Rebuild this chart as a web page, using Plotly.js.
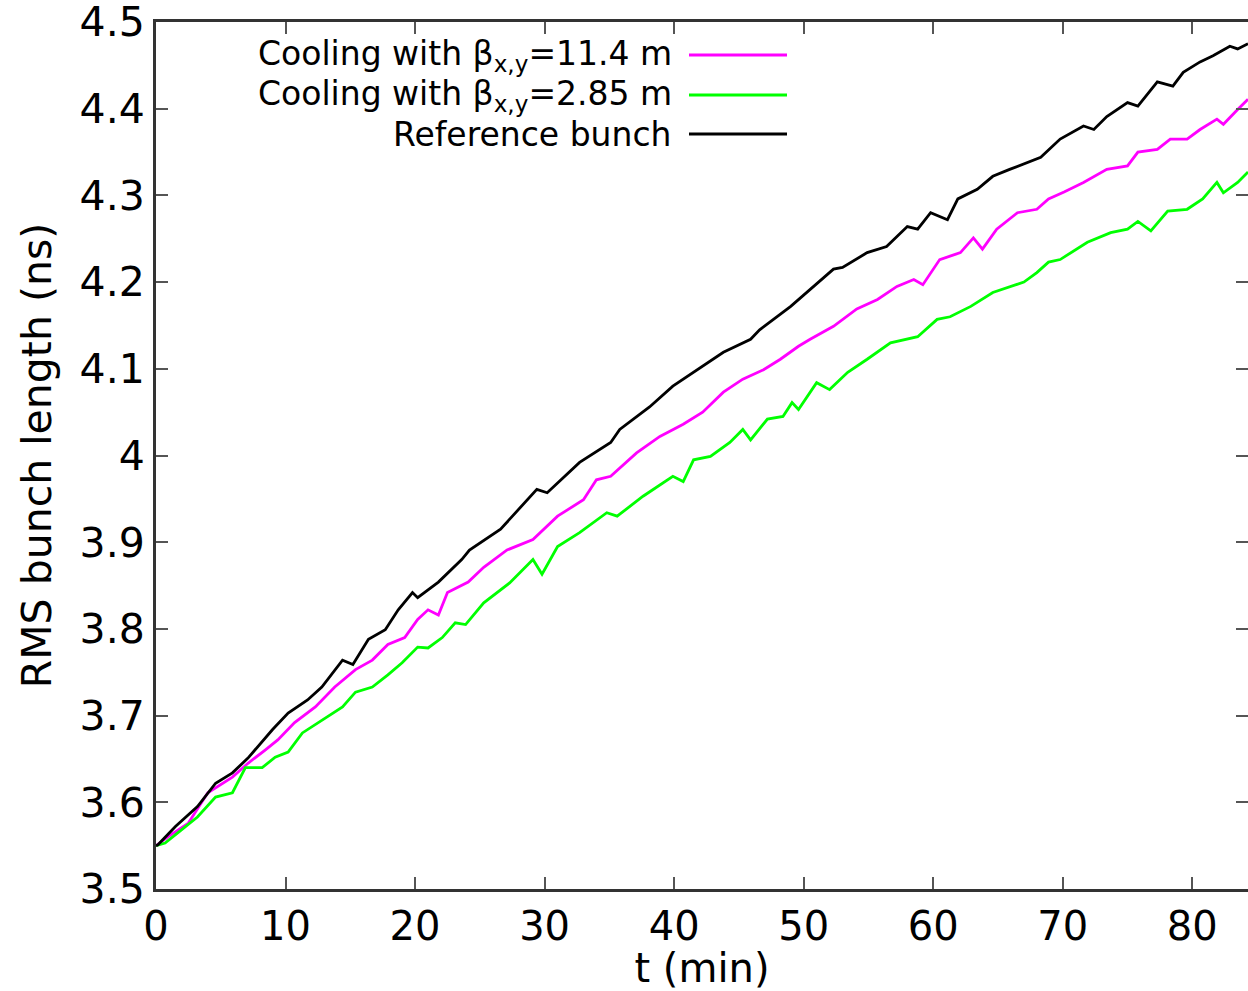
<!DOCTYPE html>
<html>
<head>
<meta charset="utf-8">
<script src="https://cdn.plot.ly/plotly-3.0.1.min.js"></script>
<style>html,body{margin:0;padding:0;background:#fff;}#chart{width:1248px;height:991px;}</style>
</head>
<body>
<div id="chart"></div>
<script>
// Reference bunch (black)
const tRef = [0, 0.15, 1.5, 3.2, 4.6, 5.9, 7.1, 9.0, 10.2, 11.7, 12.8, 14.4, 15.2, 16.4, 17.7, 18.7, 19.8, 20.2, 21.8, 23.6, 24.2, 26.6, 29.4, 30.2, 32.7, 35.1, 35.8, 38.1, 39.9, 42.2, 43.8, 45.9, 46.6, 49.0, 52.3, 53.0, 54.9, 56.4, 58.0, 58.8, 59.8, 61.1, 61.9, 63.4, 64.6, 65.9, 68.3, 69.8, 71.6, 72.4, 73.4, 75.0, 75.8, 77.3, 78.5, 79.3, 80.6, 81.6, 82.9, 83.5, 84.3];
const vRef = [3.550, 3.551, 3.572, 3.595, 3.622, 3.634, 3.651, 3.684, 3.703, 3.718, 3.733, 3.764, 3.759, 3.788, 3.799, 3.822, 3.842, 3.836, 3.854, 3.880, 3.891, 3.915, 3.961, 3.957, 3.992, 4.015, 4.030, 4.056, 4.080, 4.103, 4.119, 4.134, 4.145, 4.172, 4.215, 4.217, 4.234, 4.241, 4.264, 4.261, 4.280, 4.272, 4.296, 4.307, 4.322, 4.330, 4.344, 4.365, 4.380, 4.376, 4.391, 4.407, 4.403, 4.431, 4.426, 4.442, 4.454, 4.461, 4.472, 4.469, 4.475];

// Cooling with beta = 11.4 m (magenta)
const tMag = [0, 1.0, 2.5, 4.0, 5.9, 7.1, 8.4, 9.4, 10.7, 12.3, 13.8, 15.4, 16.7, 17.9, 19.2, 20.2, 21.0, 21.8, 22.5, 24.1, 25.3, 27.1, 29.1, 31.0, 33.0, 34.0, 35.1, 37.1, 38.9, 40.7, 42.2, 43.8, 45.3, 46.9, 48.2, 49.6, 50.5, 52.3, 54.1, 55.7, 57.2, 58.5, 59.2, 60.5, 62.1, 63.1, 63.8, 64.9, 66.5, 68.0, 68.9, 70.1, 71.6, 73.4, 75.0, 75.8, 77.3, 78.3, 79.6, 80.6, 81.9, 82.4, 83.5, 84.3];
const vMag = [3.550, 3.561, 3.576, 3.611, 3.629, 3.645, 3.660, 3.672, 3.692, 3.710, 3.733, 3.753, 3.764, 3.782, 3.790, 3.811, 3.822, 3.816, 3.842, 3.854, 3.871, 3.891, 3.903, 3.930, 3.949, 3.972, 3.976, 4.003, 4.022, 4.036, 4.050, 4.073, 4.088, 4.099, 4.111, 4.126, 4.134, 4.149, 4.169, 4.180, 4.195, 4.203, 4.197, 4.226, 4.234, 4.251, 4.238, 4.261, 4.280, 4.284, 4.296, 4.304, 4.315, 4.330, 4.334, 4.350, 4.353, 4.365, 4.365, 4.376, 4.388, 4.382, 4.399, 4.411];

// Cooling with beta = 2.85 m (green)
const tGrn = [0, 0.7, 1.7, 3.2, 4.6, 5.9, 6.9, 8.2, 9.2, 10.2, 11.3, 12.8, 14.4, 15.4, 16.7, 17.9, 19.0, 20.2, 21.0, 22.1, 23.1, 23.9, 25.3, 27.3, 29.1, 29.8, 31.0, 32.7, 34.8, 35.6, 37.6, 39.9, 40.7, 41.5, 42.8, 44.3, 45.3, 45.9, 47.2, 48.4, 49.1, 49.6, 51.0, 52.0, 53.4, 54.9, 56.7, 58.8, 60.3, 61.3, 62.9, 64.6, 67.0, 68.0, 68.9, 69.8, 71.9, 73.7, 75.0, 75.8, 76.8, 78.1, 79.6, 80.8, 81.9, 82.4, 83.5, 84.3];
const vGrn = [3.550, 3.553, 3.565, 3.583, 3.606, 3.611, 3.640, 3.640, 3.652, 3.658, 3.680, 3.695, 3.710, 3.727, 3.733, 3.747, 3.761, 3.779, 3.778, 3.790, 3.807, 3.805, 3.830, 3.853, 3.880, 3.863, 3.895, 3.911, 3.934, 3.930, 3.953, 3.976, 3.970, 3.995, 3.999, 4.015, 4.030, 4.018, 4.042, 4.045, 4.061, 4.053, 4.084, 4.076, 4.096, 4.111, 4.130, 4.137, 4.157, 4.160, 4.172, 4.188, 4.200, 4.211, 4.223, 4.226, 4.246, 4.257, 4.261, 4.270, 4.259, 4.282, 4.284, 4.296, 4.315, 4.303, 4.315, 4.327];

const xTicks = [0, 10, 20, 30, 40, 50, 60, 70, 80];
const yTicks = [3.5, 3.6, 3.7, 3.8, 3.9, 4.0, 4.1, 4.2, 4.3, 4.4, 4.5];
const yTickText = ['3.5', '3.6', '3.7', '3.8', '3.9', '4', '4.1', '4.2', '4.3', '4.4', '4.5'];
const legendLabels = ['Cooling with β<sub>x,y</sub>=11.4 m', 'Cooling with β<sub>x,y</sub>=2.85 m', 'Reference bunch'];
const colors = ['#ff00ff', '#00ff00', '#000000'];

const FONT = 'DejaVu Sans, sans-serif';
const traces = [
  {x: tMag, y: vMag, mode: 'lines', line: {color: colors[0], width: 2.8}, showlegend: false},
  {x: tGrn, y: vGrn, mode: 'lines', line: {color: colors[1], width: 2.8}, showlegend: false},
  {x: tRef, y: vRef, mode: 'lines', line: {color: colors[2], width: 2.8}, showlegend: false}
];

// legend drawn gnuplot-style: right-aligned text, sample line to the right
const L = 156, W = 1092, B = 889, H = 867;
const px = v => (v - L) / W;
const py = v => (B - v) / H;
const rows = [55, 95, 134];
const annotations = [], shapes = [];
rows.forEach((r, i) => {
  annotations.push({xref: 'paper', yref: 'paper', x: px(674), y: py(r), xanchor: 'right', yanchor: 'middle',
    text: legendLabels[i], showarrow: false, font: {family: FONT, size: 33, color: '#000'}});
  shapes.push({type: 'line', xref: 'paper', yref: 'paper', x0: px(689), x1: px(787), y0: py(r), y1: py(r),
    line: {color: colors[i], width: 2.8}});
});

const layout = {
  width: 1248, height: 991,
  margin: {l: 156, r: 0, t: 22, b: 102},
  paper_bgcolor: '#fff', plot_bgcolor: '#fff',
  font: {family: FONT, color: '#000'},
  showlegend: false,
  xaxis: {
    range: [0, 84.3], tickvals: xTicks, ticks: 'inside', ticklen: 12, tickwidth: 2, tickcolor: '#555',
    showline: true, linecolor: '#333', linewidth: 3, mirror: 'ticks', showgrid: false, zeroline: false,
    ticklabeloverflow: 'allow',
    tickfont: {family: FONT, size: 40, color: '#000'},
    title: {text: 't (min)', font: {family: FONT, size: 40, color: '#000'}, standoff: 5}
  },
  yaxis: {
    range: [3.5, 4.5], tickvals: yTicks, ticktext: yTickText, ticks: 'inside', ticklen: 12, tickwidth: 2, tickcolor: '#555',
    showline: true, linecolor: '#333', linewidth: 3, mirror: 'ticks', showgrid: false, zeroline: false,
    ticklabeloverflow: 'allow',
    tickfont: {family: FONT, size: 41, color: '#000'},
    title: {text: 'RMS bunch length (ns)', font: {family: FONT, size: 41, color: '#000'}, standoff: 16}
  },
  annotations: annotations,
  shapes: shapes
};

Plotly.newPlot('chart', traces, layout, {staticPlot: true, displayModeBar: false});
</script>
</body>
</html>
